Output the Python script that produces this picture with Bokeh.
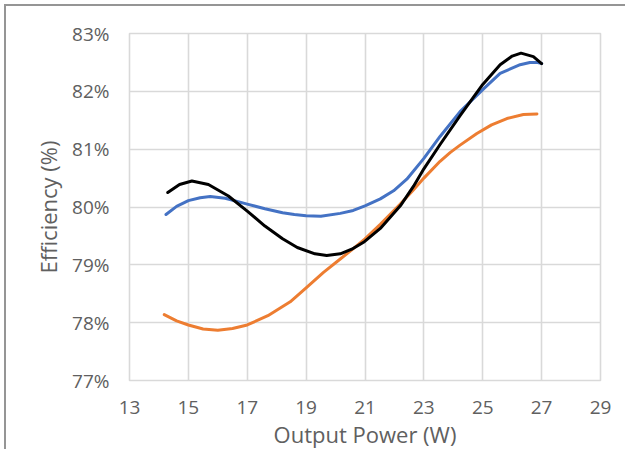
from bokeh.plotting import figure
from bokeh.models import FixedTicker, PrintfTickFormatter, Range1d
from bokeh.embed import file_html
from bokeh.resources import INLINE

# Output power (W) and efficiency (%)
blue_x = [14.24, 14.6, 15.0, 15.4, 15.74, 16.25, 17.0, 17.6, 18.2, 18.6, 19.0, 19.5, 20.16,
          20.6, 21.0, 21.52, 21.97, 22.42, 23.0, 23.55, 24.23, 25.0, 25.59, 26.27, 26.6, 26.84, 27.0]
blue_y = [79.87, 80.01, 80.11, 80.16, 80.18, 80.15, 80.05, 79.97, 79.90, 79.87, 79.85, 79.84, 79.89,
          79.94, 80.02, 80.14, 80.28, 80.48, 80.84, 81.22, 81.65, 82.03, 82.31, 82.46, 82.50, 82.50, 82.48]

orange_x = [14.18, 14.6, 15.0, 15.5, 16.0, 16.5, 17.0, 17.7, 18.46, 19.0, 19.59, 20.16,
            20.55, 21.0, 21.52, 22.2, 22.65, 23.0, 23.55, 23.89, 24.23, 24.8, 25.3, 25.82, 26.38, 26.84]
orange_y = [78.14, 78.03, 77.96, 77.89, 77.87, 77.90, 77.96, 78.12, 78.36, 78.60, 78.87, 79.10,
            79.26, 79.45, 79.70, 80.05, 80.30, 80.50, 80.79, 80.94, 81.07, 81.27, 81.42, 81.53, 81.60, 81.61]

black_x = [14.30, 14.7, 15.12, 15.68, 16.36, 17.0, 17.6, 18.2, 18.7, 19.3, 19.7, 20.16,
           20.55, 20.98, 21.52, 22.2, 22.65, 23.0, 23.55, 24.23, 25.0, 25.59, 26.0, 26.3, 26.72, 27.0]
black_y = [80.25, 80.39, 80.45, 80.39, 80.19, 79.93, 79.67, 79.45, 79.30, 79.19, 79.16, 79.19,
           79.27, 79.40, 79.63, 80.02, 80.36, 80.66, 81.08, 81.58, 82.12, 82.46, 82.61, 82.66, 82.60, 82.48]

x_ticks = [13, 15, 17, 19, 21, 23, 25, 27, 29]
y_ticks = [77, 78, 79, 80, 81, 82, 83]

FONT = "Open Sans"
TXT = "#606060"
GRID = "#d9d9d9"

p = figure(width=621, height=445, output_backend="svg", toolbar_location=None,
           x_range=Range1d(13, 29), y_range=Range1d(77, 83),
           min_border_left=123, min_border_right=27, min_border_top=27, min_border_bottom=60)
p.styles = {"margin-left": "4px", "margin-top": "4px",
            "border-left": "2px solid #959595", "border-top": "2px solid #959595"}

p.line(blue_x, blue_y, line_color="#4472C4", line_width=3, line_cap="round", line_join="round")
p.line(orange_x, orange_y, line_color="#ED7D31", line_width=3, line_cap="round", line_join="round")
p.line(black_x, black_y, line_color="#000000", line_width=3, line_cap="round", line_join="round")

p.xaxis.ticker = FixedTicker(ticks=x_ticks)
p.yaxis.ticker = FixedTicker(ticks=y_ticks)
p.yaxis.formatter = PrintfTickFormatter(format="%d%%")

for ax in (p.xaxis, p.yaxis):
    ax.axis_line_color = None
    ax.major_tick_line_color = None
    ax.minor_tick_line_color = None
    ax.major_tick_out = 0
    ax.major_tick_in = 0
    ax.minor_tick_out = 0
    ax.minor_tick_in = 0
    ax.major_label_text_font = FONT
    ax.major_label_text_font_size = "19px"
    ax.major_label_text_color = TXT
    ax.axis_label_text_font = FONT
    ax.axis_label_text_font_size = "22px"
    ax.axis_label_text_font_style = "normal"
    ax.axis_label_text_color = TXT

p.xaxis.axis_label = "Output Power (W)"
p.yaxis.axis_label = "Efficiency (%)"
p.xaxis.major_label_standoff = 20
p.yaxis.major_label_standoff = 20
p.xaxis.axis_label_standoff = 2
p.yaxis.axis_label_standoff = 6

p.grid.grid_line_color = GRID
p.grid.grid_line_width = 1.6
p.outline_line_color = GRID
p.outline_line_width = 1.6
p.background_fill_color = "white"
p.border_fill_color = "white"

open("out.html", "w").write(file_html(p, INLINE))
